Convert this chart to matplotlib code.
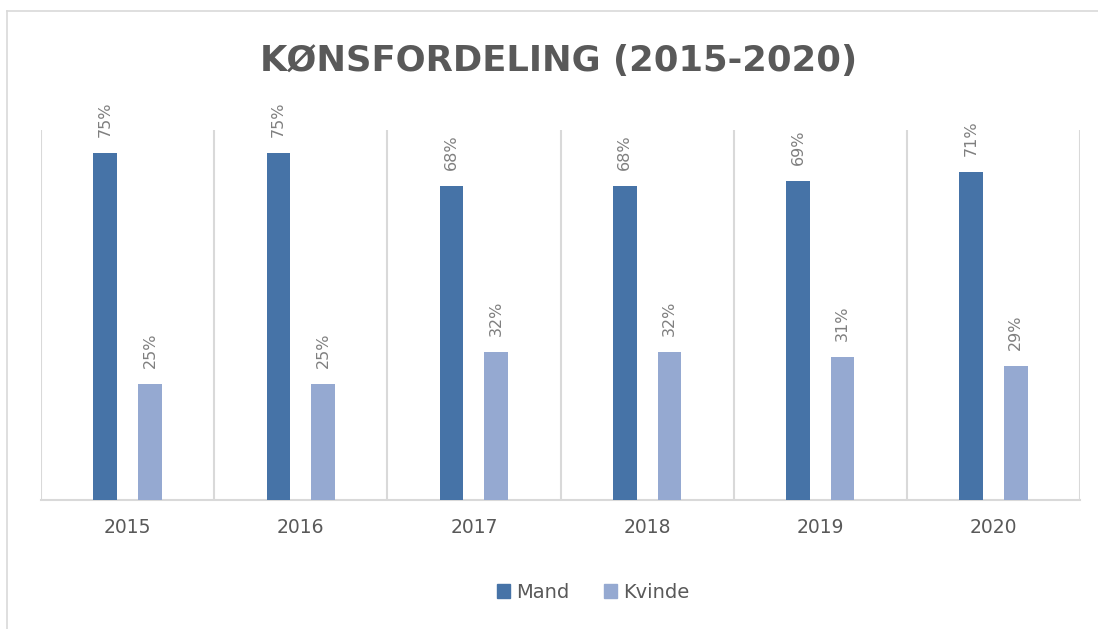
import matplotlib
matplotlib.use('Agg')
import matplotlib.pyplot as plt
from matplotlib.lines import Line2D
from matplotlib.patches import Patch
import numpy as np

plt.rcParams['font.family'] = ['DejaVu Sans']

years = ['2015', '2016', '2017', '2018', '2019', '2020']
mand = [75, 75, 68, 68, 69, 71]
kvinde = [25, 25, 32, 32, 31, 29]

blue_dark = '#4673a7'
blue_light = '#95a9d1'
txt_grey = '#595959'
lbl_grey = '#7f7f7f'
grid_grey = '#d9d9d9'

fig = plt.figure(figsize=(10.98, 6.29), dpi=100)
ax = fig.add_axes([41/1098, 1 - 500/629, (1080 - 41)/1098, (500 - 130)/629])

x = np.arange(len(years))
w = 0.136
off = 0.129
b1 = ax.bar(x - off, mand, w, color=blue_dark, label='Mand', zorder=3)
b2 = ax.bar(x + off, kvinde, w, color=blue_light, label='Kvinde', zorder=3)

# data labels, rotated like in excel
for bars, vals in ((b1, mand), (b2, kvinde)):
    for r, v in zip(bars, vals):
        ax.annotate(f'{v}%', (r.get_x() + r.get_width()/2, r.get_height()),
                    xytext=(0, 16), textcoords='offset pixels',
                    rotation=90, ha='center', va='bottom',
                    fontsize=11.5, color=lbl_grey)

ax.set_xlim(-0.5, len(years) - 0.5)
ax.set_ylim(0, 80)
ax.set_yticks([])
ax.set_xticks(x)
ax.set_xticklabels(years, fontsize=13.5, color=txt_grey)
ax.set_xticks(np.arange(len(years) + 1) - 0.5, minor=True)
ax.tick_params(axis='x', which='both', length=0, pad=13)
ax.grid(which='minor', axis='x', color=grid_grey, linewidth=1.5, zorder=0)
for s in ['top', 'left', 'right']:
    ax.spines[s].set_visible(False)
ax.spines['bottom'].set_color(grid_grey)
ax.spines['bottom'].set_linewidth(1.5)

fig.text(0.509, 1 - 71/629, 'KØNSFORDELING (2015-2020)', ha='center', va='baseline',
         fontsize=25.5, fontweight='bold', color=txt_grey)

handles = [Patch(color=blue_dark), Patch(color=blue_light)]
fig.legend(handles, ['Mand', 'Kvinde'], loc='center', bbox_to_anchor=(593/1098, 1 - 592/629),
           ncol=2, frameon=False, fontsize=14, labelcolor=txt_grey,
           handlelength=0.7, handleheight=0.7, handletextpad=0.3, columnspacing=1.75)

# outer chart border (cropped: only left and top visible)
fig.add_artist(Line2D([7/1098, 7/1098], [0, 1 - 11/629], color=grid_grey, lw=1.2))
fig.add_artist(Line2D([7/1098, 1], [1 - 11/629, 1 - 11/629], color=grid_grey, lw=1.2))

fig.savefig('out.png', dpi=100, facecolor='white')
